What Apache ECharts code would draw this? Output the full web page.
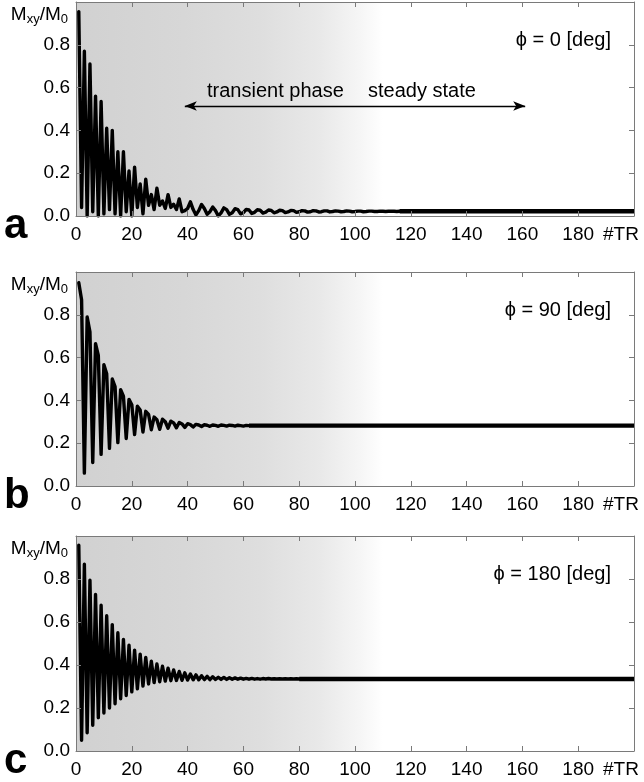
<!DOCTYPE html>
<html><head><meta charset="utf-8">
<script src="https://cdn.jsdelivr.net/npm/echarts@6/dist/echarts.min.js"></script>
<style>html,body{margin:0;padding:0;background:#fff}#c{width:644px;height:782px}</style>
</head><body><div id="c"></div>
<script>
// ---- data ----
const panelNames = ['a', 'b', 'c'];
const phaseLabels = ['\u03D5 = 0 [deg]', '\u03D5 = 90 [deg]', '\u03D5 = 180 [deg]'];
const xMax = 200;                       // last #TR on the axis
const yTickLabels = ['0.0', '0.2', '0.4', '0.6', '0.8'];
// |Mxy|/M0 for TR = 1,2,3,...
const valsA = [0.955,0.04,0.77,0.0,0.71,0.02,0.56,0.0,0.535,0.01,
  0.41,0.03,0.40,0.01,0.30,0.0,0.30,0.02,0.21,0.0,
  0.228,0.04,0.15,0.01,0.172,0.05,0.10,0.03,0.13,0.05,
  0.07,0.035,0.10,0.04,0.055,0.03,0.08,0.02,0.025,0.035,
  0.066,0.03,0.005,0.025,0.054,0.035,0.008,0.02,0.042,0.025,
  0.0,0.015,0.038,0.03,0.008,0.015,0.034,0.03,0.01,0.016,
  0.031,0.028,0.012,0.017,0.029,0.027,0.014,0.018,0.028,0.026,
  0.015,0.019,0.027,0.025,0.016,0.019,0.026,0.025,0.017,0.02,
  0.025,0.024,0.018,0.02,0.025,0.024,0.019,0.02,0.024,0.024,
  0.019,0.021,0.024,0.023,0.02,0.021,0.024,0.023,0.02,0.021,
  0.023,0.023,0.02,0.021,0.023,0.023,0.021,0.021,0.023,0.022,
  0.021,0.022,0.023,0.022,0.021,0.022];
const valsB = [0.95,0.87,0.06,0.79,0.72,0.11,0.665,0.61,0.148,0.567,
  0.525,0.176,0.50,0.465,0.203,0.45,0.42,0.222,0.405,0.38,
  0.24,0.373,0.355,0.252,0.349,0.335,0.263,0.322,0.31,0.265,
  0.312,0.30,0.27,0.303,0.295,0.272,0.297,0.29,0.274,0.291,
  0.287,0.276,0.288,0.285,0.278,0.286,0.284,0.279,0.285,0.283,
  0.279,0.285,0.283,0.28,0.284,0.283,0.28,0.284,0.282,0.28,
  0.283,0.282];
const valsC = [0.957,0.05,0.869,0.085,0.794,0.12,0.728,0.155,0.678,0.177,
  0.629,0.20,0.588,0.22,0.55,0.243,0.519,0.258,0.492,0.275,
  0.469,0.289,0.45,0.302,0.435,0.312,0.418,0.318,0.405,0.322,
  0.394,0.325,0.385,0.327,0.377,0.328,0.37,0.329,0.364,0.33,
  0.358,0.331,0.354,0.331,0.35,0.332,0.347,0.332,0.345,0.333,
  0.343,0.333,0.342,0.333,0.341,0.334,0.34,0.334,0.339,0.334,
  0.338,0.334,0.338,0.334,0.337,0.334,0.337,0.335,0.337,0.335,
  0.336,0.335,0.336,0.335,0.336,0.335,0.336,0.335,0.336,0.335];
const steadyVals = [0.022, 0.282, 0.335];
const shadeEnd = 110;                   // end of grey "transient" shading (#TR)
const arrowX = [39, 161];               // double arrow extent (#TR)
const arrowY = 0.514;
const panelVals = [valsA, valsB, valsC];

// ---- layout ----
const FONT = 'Liberation Sans, Arial, sans-serif';
const L = 76, R = 10;
const tops = [2, 272, 536];
const heights = [214, 214, 215];
const frame = '#7a7a7a';

const grids = [], xAxes = [], yAxes = [], series = [], graphics = [];
for (let i = 0; i < 3; i++) {
  grids.push({left: L, right: R, top: tops[i], height: heights[i], show: false});
  const tick = {show: true, inside: true, length: 5, lineStyle: {color: frame, width: 1}};
  const line = {show: true, onZero: false, lineStyle: {color: frame, width: 1}};
  xAxes.push({gridIndex: i, type: 'value', min: 0, max: xMax, interval: 20, position: 'bottom', z: 5,
    axisLine: line, axisTick: tick, splitLine: {show: false},
    axisLabel: {show: true, margin: 9, color: '#000', fontSize: 19, fontFamily: FONT,
      showMaxLabel: true,
      formatter: v => v === xMax ? '{t|#TR}' : String(v),
      rich: {t: {fontSize: 19, fontFamily: FONT, color: '#000', padding: [0, 26, 0, 0]}}}});
  xAxes.push({gridIndex: i, type: 'value', min: 0, max: xMax, interval: 20, position: 'top', z: 5,
    axisLine: line, axisTick: tick, splitLine: {show: false}, axisLabel: {show: false}});
  yAxes.push({gridIndex: i, type: 'value', min: 0, max: 1, interval: 0.2, position: 'left', z: 5,
    axisLine: line, axisTick: tick, splitLine: {show: false},
    axisLabel: {show: true, margin: 6, color: '#000', fontSize: 19, fontFamily: FONT,
      formatter: v => { const k = Math.round(v / 0.2); return k < yTickLabels.length ? yTickLabels[k] : ''; }}});
  yAxes.push({gridIndex: i, type: 'value', min: 0, max: 1, interval: 0.2, position: 'right', z: 5,
    axisLine: line, axisTick: tick, splitLine: {show: false}, axisLabel: {show: false}});

  // grey transient-phase shading
  series.push({type: 'line', xAxisIndex: 2 * i, yAxisIndex: 2 * i, data: [], z: 1, silent: true,
    markArea: {silent: true, itemStyle: {color: new echarts.graphic.LinearGradient(0, 0, 1, 0, [
      {offset: 0, color: '#d1d1d1'}, {offset: 0.35, color: '#d7d7d7'}, {offset: 0.6, color: '#dedede'},
      {offset: 0.8, color: '#e9e9e9'}, {offset: 0.92, color: '#f5f5f5'}, {offset: 1, color: '#ffffff'}])},
      data: [[{xAxis: 0}, {xAxis: shadeEnd}]]}});

  const vals = panelVals[i];
  const s = {type: 'line', xAxisIndex: 2 * i, yAxisIndex: 2 * i, z: 3, showSymbol: false, symbol: 'none',
    animation: false, data: vals.map((v, k) => [k + 1, v]),
    lineStyle: {color: '#000', width: 3.4, join: 'round', cap: 'round'}};
  if (i === 0) {
    s.markLine = {silent: true, symbol: ['arrow', 'arrow'], symbolSize: [7, 12], animation: false,
      label: {show: false}, lineStyle: {color: '#000', width: 1.3, type: 'solid'},
      data: [[{coord: [arrowX[0], arrowY]}, {coord: [arrowX[1], arrowY]}]]};
  }
  series.push(s);
  // steady-state tail
  series.push({type: 'line', xAxisIndex: 2 * i, yAxisIndex: 2 * i, z: 3, showSymbol: false, symbol: 'none',
    animation: false, data: [[vals.length, steadyVals[i]], [xMax, steadyVals[i]]],
    lineStyle: {color: '#000', width: 4.4}});

  // texts
  graphics.push({type: 'text', x: 68, y: tops[i] + 2, z: 10, style: {
    text: '{m|M}{s|xy}{m|/M}{s|0}', align: 'right', verticalAlign: 'top', fill: '#000',
    rich: {m: {fontSize: 19, fontFamily: FONT, fill: '#000'},
           s: {fontSize: 13, fontFamily: FONT, fill: '#000', padding: [9, 0, 0, 0]}}}});
  graphics.push({type: 'text', x: 611, y: tops[i] + 38, z: 10, style: {
    text: phaseLabels[i], align: 'right', verticalAlign: 'middle', fill: '#000',
    fontSize: 20, fontFamily: FONT}});
  graphics.push({type: 'text', x: 4, y: tops[i] + heights[i] + 10, z: 10, style: {
    text: panelNames[i], align: 'left', verticalAlign: 'middle', fill: '#000',
    fontSize: 42, fontWeight: 'bold', fontFamily: FONT}});
}
graphics.push({type: 'text', x: 207, y: 91, z: 10, style: {text: 'transient phase', align: 'left',
  verticalAlign: 'middle', fill: '#000', fontSize: 20, fontFamily: FONT}});
graphics.push({type: 'text', x: 368, y: 91, z: 10, style: {text: 'steady state', align: 'left',
  verticalAlign: 'middle', fill: '#000', fontSize: 20, fontFamily: FONT}});

const chart = echarts.init(document.getElementById('c'), null, {renderer: 'canvas'});
chart.setOption({animation: false, backgroundColor: '#fff', grid: grids, xAxis: xAxes, yAxis: yAxes,
  series: series, graphic: graphics});
</script></body></html>
